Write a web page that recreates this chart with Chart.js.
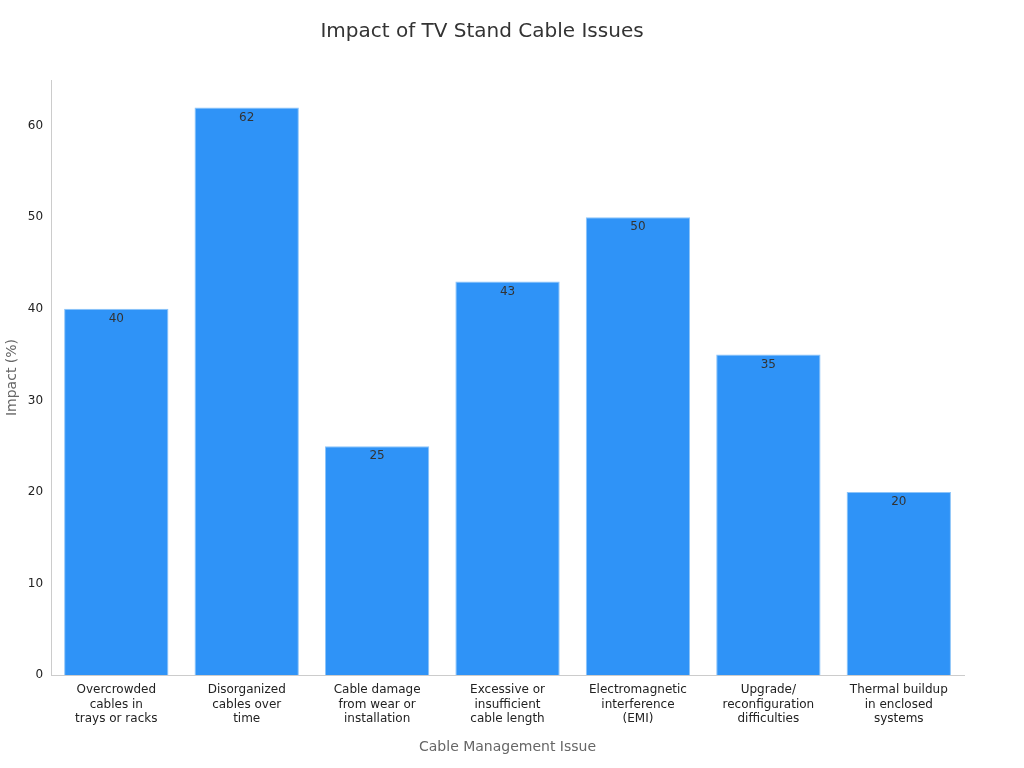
<!DOCTYPE html>
<html>
<head>
<meta charset="utf-8">
<script src="https://cdn.jsdelivr.net/npm/chart.js@4"></script>
<style>
  body { margin: 0; background: #fff; }
  #wrap { width: 1024px; height: 768px; }
</style>
</head>
<body>
<div id="wrap"><canvas id="chart"></canvas></div>
<script>
// Datos del gráfico
const categories = [
    ['Overcrowded', 'cables in', 'trays or racks'],
    ['Disorganized', 'cables over', 'time'],
    ['Cable damage', 'from wear or', 'installation'],
    ['Excessive or', 'insufficient', 'cable length'],
    ['Electromagnetic', 'interference', '(EMI)'],
    ['Upgrade/', 'reconfiguration', 'difficulties'],
    ['Thermal buildup', 'in enclosed', 'systems']
];
const impactValues = [40, 62, 25, 43, 50, 35, 20];
const yTicks = [0, 10, 20, 30, 40, 50, 60];

Chart.defaults.font.family = 'DejaVu Sans';

// etiquetas de valor dentro de cada barra
const valueLabels = {
    id: 'valueLabels',
    afterDatasetsDraw(chart) {
        const ctx = chart.ctx;
        const meta = chart.getDatasetMeta(0);
        ctx.save();
        ctx.font = '12px DejaVu Sans';
        ctx.fillStyle = '#333';
        ctx.textAlign = 'center';
        ctx.textBaseline = 'top';
        meta.data.forEach((bar, i) => {
            ctx.fillText(String(impactValues[i]), bar.x, bar.y + 4);
        });
        ctx.restore();
    }
};

new Chart(document.getElementById('chart'), {
    type: 'bar',
    data: {
        labels: categories,
        datasets: [{
            label: 'Impact (%)',
            data: impactValues,
            backgroundColor: '#2f93f7',
            borderColor: '#8cc4f9',
            borderWidth: 1,
            categoryPercentage: 0.8,
            barPercentage: 1.0
        }]
    },
    options: {
        responsive: true,
        maintainAspectRatio: false,
        animation: false,
        layout: { padding: { top: 10, right: 60, left: 0, bottom: 8 } },
        plugins: {
            legend: { display: false },
            tooltip: { enabled: false },
            title: {
                display: true,
                text: 'Impact of TV Stand Cable Issues',
                color: '#333',
                font: { size: 20, weight: 'normal' },
                padding: { top: 10, bottom: 36 }
            }
        },
        scales: {
            x: {
                grid: { display: false, drawTicks: true, tickLength: 5, color: '#ccc' },
                border: { color: '#ccc' },
                ticks: { color: '#222', font: { size: 12 }, maxRotation: 0, autoSkip: false },
                title: {
                    display: true,
                    text: 'Cable Management Issue',
                    color: '#666',
                    font: { size: 14 },
                    padding: { top: 10 }
                }
            },
            y: {
                min: 0,
                max: 65,
                afterBuildTicks(axis) {
                    axis.ticks = yTicks.map(v => ({ value: v }));
                },
                grid: { display: false, drawTicks: true, tickLength: 5, color: '#ccc' },
                border: { color: '#ccc' },
                ticks: { color: '#222', font: { size: 12 } },
                title: {
                    display: true,
                    text: 'Impact (%)',
                    color: '#666',
                    font: { size: 14 }
                }
            }
        }
    },
    plugins: [valueLabels]
});
</script>
</body>
</html>
